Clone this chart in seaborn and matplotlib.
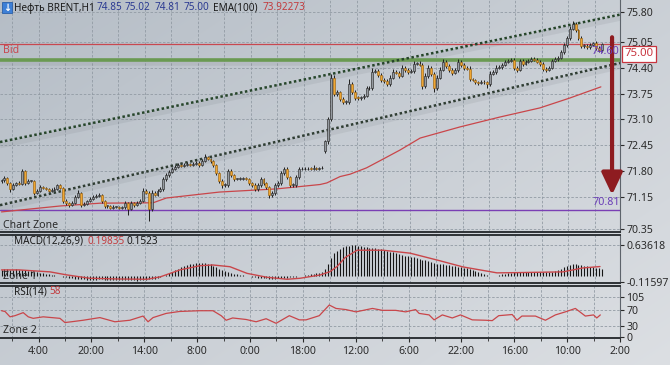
import numpy as np
import matplotlib
matplotlib.use("Agg")
import matplotlib.pyplot as plt
import matplotlib.transforms as mtransforms
from matplotlib.patches import Rectangle
import seaborn as sns

# ---------------- data ----------------
closes = [
    71.57, 71.62, 71.50, 71.35, 71.45, 71.50, 71.48, 71.80, 71.50, 71.55,
    71.55, 71.25, 71.30, 71.40, 71.38, 71.35, 71.30, 71.33, 71.35, 71.45,
    71.38, 71.05, 71.00, 70.95, 71.00, 71.15, 71.25, 70.95, 70.98, 71.05,
    71.10, 71.15, 71.18, 71.20, 71.05, 70.92, 70.92, 70.88, 70.90, 70.90,
    70.88, 70.90, 71.00, 70.85, 71.00, 70.95, 71.00, 71.05, 71.30, 71.25,
    70.85, 71.25, 71.20, 71.30, 71.35, 71.60, 71.70, 71.78, 71.85, 71.90,
    71.95, 71.92, 71.95, 71.98, 71.95, 71.98, 72.00, 71.95, 72.05, 72.15,
    72.10, 72.05, 71.95, 71.75, 71.55, 71.45, 71.45, 71.80, 71.70, 71.60,
    71.60, 71.60, 71.62, 71.60, 71.50, 71.45, 71.35, 71.45, 71.60, 71.50,
    71.40, 71.20, 71.25, 71.45, 71.50, 71.75, 71.85, 71.65, 71.45, 71.45,
    71.65, 71.85, 71.85, 71.85, 71.86, 71.85, 71.88, 71.85, 71.87, 71.88,
    72.55, 73.10, 74.15, 73.75, 73.78, 73.62, 73.55, 73.55, 73.98, 73.80,
    73.65, 73.64, 73.66, 73.70, 73.88, 73.90, 74.30, 74.32, 74.22, 74.10,
    74.08, 74.00, 74.15, 74.30, 74.28, 74.20, 74.40, 74.35, 74.30, 74.32,
    74.50, 74.50, 74.48, 73.95, 74.20, 74.40, 74.25, 73.90, 74.15, 74.35,
    74.55, 74.45, 74.35, 74.28, 74.35, 74.55, 74.48, 74.40, 74.38, 74.12,
    74.10, 74.05, 74.02, 74.05, 74.03, 73.98, 74.25, 74.30, 74.40, 74.42,
    74.48, 74.55, 74.58, 74.60, 74.40, 74.35, 74.58, 74.50, 74.55, 74.58,
    74.62, 74.60, 74.55, 74.50, 74.38, 74.35, 74.40, 74.58, 74.62, 74.65,
    74.80, 74.97, 75.15, 75.38, 75.50, 75.35, 75.15, 74.95, 74.95, 74.92,
    74.98, 75.02, 74.90, 74.85, 75.00,
]
first_open = 71.55
gap_opens = {110: 72.30}

# wick lengths in cents above / below the body
wick_up = [
    4, 5, 3, 3, 4, 3, 4, 6, 3, 4, 3, 3, 4, 5, 3, 3, 3, 4, 5, 3,
    3, 3, 4, 3, 4, 5, 6, 3, 4, 3, 5, 4, 4, 4, 3, 3, 3, 3, 4, 3,
    3, 3, 5, 3, 4, 3, 4, 5, 8, 4, 5, 6, 4, 5, 4, 5, 5, 5, 4, 4,
    4, 3, 4, 4, 3, 4, 4, 4, 5, 7, 4, 3, 3, 3, 3, 4, 4, 6, 4, 3,
    3, 4, 4, 3, 3, 3, 4, 5, 5, 3, 3, 3, 4, 4, 5, 6, 6, 4, 3, 4,
    5, 5, 4, 6, 3, 4, 6, 3, 4, 4, 4, 5, 10, 6, 5, 4, 5, 4, 14, 5,
    4, 4, 4, 5, 6, 5, 10, 4, 4, 4, 4, 5, 6, 6, 4, 4, 6, 4, 4, 4,
    6, 4, 6, 4, 8, 6, 4, 4, 6, 6, 6, 4, 4, 4, 5, 6, 4, 4, 4, 6,
    3, 3, 3, 4, 4, 5, 6, 4, 6, 4, 5, 5, 4, 5, 5, 4, 5, 5, 4, 4,
    5, 4, 4, 4, 4, 4, 5, 5, 4, 4, 6, 6, 6, 8, 8, 5, 4, 4, 4, 4,
    5, 4, 5, 4, 2,
]
wick_dn = [
    4, 4, 5, 7, 4, 3, 4, 4, 4, 3, 3, 6, 4, 4, 3, 4, 4, 4, 3, 4,
    4, 5, 5, 6, 4, 4, 4, 6, 4, 4, 4, 4, 3, 3, 5, 5, 4, 4, 4, 4,
    4, 4, 5, 16, 4, 5, 4, 4, 4, 4, 30, 5, 4, 4, 4, 5, 4, 4, 4, 3,
    3, 3, 3, 3, 3, 3, 3, 4, 3, 3, 3, 4, 4, 6, 6, 8, 5, 5, 4, 4,
    3, 3, 3, 3, 5, 4, 6, 5, 4, 4, 5, 8, 5, 5, 4, 4, 4, 5, 5, 4,
    4, 4, 3, 3, 3, 3, 3, 3, 3, 3, 5, 6, 4, 6, 5, 6, 6, 5, 5, 6,
    5, 5, 4, 4, 4, 5, 5, 4, 5, 6, 6, 5, 5, 4, 4, 5, 4, 5, 5, 4,
    5, 4, 4, 8, 5, 5, 5, 10, 5, 4, 4, 5, 5, 6, 4, 5, 5, 5, 4, 4,
    4, 5, 5, 4, 4, 8, 5, 4, 5, 4, 4, 4, 4, 4, 6, 5, 4, 5, 4, 4,
    4, 4, 4, 5, 6, 5, 4, 4, 4, 4, 4, 4, 4, 4, 4, 6, 6, 6, 5, 5,
    4, 4, 5, 5, 4,
]

ema_idx = [0, 20, 33.5, 51.5, 56, 74, 93.5, 108.2, 110.5, 115, 118.4, 124,
           129.6, 135.4, 142.2, 155.7, 169.3, 182.9, 193.1, 203.6]
ema_val = [70.77, 70.92, 70.99, 71.00, 71.12, 71.27, 71.35, 71.46, 71.50, 71.66,
           71.72, 71.88, 72.10, 72.33, 72.63, 72.91, 73.16, 73.39, 73.64, 73.92]

macd_hist = [
    0.13, 0.14, 0.14, 0.13, 0.13, 0.14, 0.13,
    0.12, 0.12, 0.11, 0.10, 0.09, 0.08, 0.07, 0.06, 0.05, 0.04,
    0.03, 0.02, 0.01, 0.00, -0.01, -0.02,
    -0.03, -0.04, -0.05, -0.05, -0.06, -0.06, -0.07, -0.07, -0.07, -0.07,
    -0.06, -0.06, -0.07, -0.07, -0.08, -0.08, -0.08, -0.08, -0.08, -0.08,
    -0.08, -0.08, -0.08, -0.09, -0.08, -0.08, -0.07, -0.06, -0.06, -0.05, -0.04,
    -0.02, 0.00, 0.03, 0.06, 0.09,
    0.12, 0.15, 0.18, 0.20, 0.22, 0.24, 0.26, 0.27, 0.28, 0.28,
    0.27, 0.26, 0.24, 0.21, 0.18, 0.15, 0.13, 0.11, 0.09, 0.07,
    0.05, 0.04, 0.03, 0.02, 0.01, 0.00, -0.01,
    -0.02, -0.03, -0.03, -0.04, -0.04, -0.05, -0.05, -0.05, -0.04, -0.04,
    -0.03, -0.03, -0.02, -0.02, -0.01, 0.00,
    0.01, 0.02, 0.03, 0.04, 0.05, 0.06, 0.07, 0.08,
    0.15, 0.25, 0.38, 0.47, 0.52, 0.56,
    0.59, 0.61, 0.62, 0.63, 0.63, 0.62,
    0.61, 0.60, 0.59, 0.58, 0.58, 0.57, 0.56, 0.55, 0.54,
    0.52, 0.50, 0.49, 0.47, 0.46, 0.44, 0.42, 0.41, 0.40,
    0.39, 0.38, 0.36, 0.34, 0.33, 0.31, 0.29,
    0.27, 0.26, 0.25, 0.24, 0.23, 0.22, 0.21,
    0.20, 0.19, 0.18, 0.17, 0.16, 0.14, 0.12,
    0.10, 0.08, 0.06, 0.04, 0.02, 0.01,
    0.00, 0.01, 0.02, 0.04, 0.05, 0.06, 0.07,
    0.08, 0.08, 0.09, 0.09, 0.09, 0.09, 0.09, 0.09, 0.09, 0.09, 0.09, 0.08, 0.08, 0.09, 0.10,
    0.12, 0.15, 0.18, 0.21, 0.23, 0.24, 0.24,
    0.23, 0.22, 0.21, 0.20, 0.19, 0.18, 0.17, 0.16, 0.15,
]
sig_idx = [0, 6, 16.5, 22, 30, 40, 49.5, 54, 60.6, 67.4, 71.8, 77.6, 83.4, 90.2,
           97, 101.4, 108.2, 111.6, 114, 116.7, 120.8, 129.6, 138.8, 148, 156.8,
           168.3, 175.1, 190.7, 197.5, 203.3]
sig_val = [0.13, 0.13, 0.09, 0.03, -0.04, -0.055, -0.06, -0.01, 0.13, 0.215, 0.23,
           0.195, 0.06, -0.02, -0.06, -0.04, 0.026, 0.094, 0.20, 0.38, 0.53, 0.53,
           0.47, 0.33, 0.19, 0.07, 0.075, 0.09, 0.17, 0.198]

rsi_idx = [0, 1.2, 2.9, 4.6, 7.4, 9.1, 10.8, 14.2, 19.9, 21.6, 23.8, 27.8, 33.5,
           38.6, 43.7, 48.2, 49.9, 51.6, 56.1, 60.6, 67.4, 72, 74.8, 76.5, 78.7,
           83.3, 86.7, 90.1, 93.5, 98, 101.4, 103.7, 108.2, 111.6, 113.9, 117.3,
           120.7, 126.3, 129.7, 134.2, 137.6, 141, 142.2, 145.6, 147.3, 150.1,
           153.5, 156.3, 160.3, 164.8, 167.1, 169.3, 173.9, 175.5, 177.2, 181.8,
           185.2, 188.6, 192, 195.4, 198.8, 201.6, 202.7, 203.9]
rsi_val = [69, 67, 53, 56, 64, 53, 49, 53, 49, 38, 40, 44, 51, 40, 44, 55, 40, 51,
           62, 67, 69, 69, 56, 44, 50, 46, 40, 48, 36, 56, 45, 45, 56, 84, 75, 72,
           66, 75, 70, 70, 66, 72, 62, 58, 45, 58, 50, 58, 45, 44, 43, 56, 59, 44,
           55, 55, 44, 58, 66, 75, 55, 58, 50, 58]

price_ticks = [75.80, 75.05, 74.40, 73.75, 73.10, 72.45, 71.80, 71.15, 70.35]
macd_ticks = [0.63618, -0.11597]
rsi_ticks = [105, 70, 30, 0]
time_labels = ["4:00", "20:00", "14:00", "8:00", "0:00", "18:00",
               "12:00", "6:00", "22:00", "16:00", "10:00", "2:00"]

bid_level = 75.00
green_level = 74.60
purple_level = 70.81
arrow_top, arrow_bottom = 75.17, 71.20
chan_upper = [72.53, 75.74]
chan_lower = [70.94, 74.52]
title_ohlc = ["74.85", "75.02", "74.81", "75.00"]
ema_last = "73.92273"
macd_title_vals = ["0.19835", "0.1523"]
rsi_last = "58"

n = len(closes)
assert len(wick_up) == n and len(wick_dn) == n and len(macd_hist) == n

# ---------------- derived candle arrays ----------------
opens = [first_open] + closes[:-1]
for k, v in gap_opens.items():
    opens[k] = v
o = np.array(opens); c = np.array(closes)
hi = np.maximum(o, c) + np.array(wick_up) / 100.0
lo = np.minimum(o, c) - np.array(wick_dn) / 100.0
idx = np.arange(n)

# ---------------- style ----------------
sns.set_theme(style="white")
plt.rcParams["font.family"] = ["Noto Sans", "DejaVu Sans"]
FS = 7.2

W, H = 670, 365
fig = plt.figure(figsize=(W / 100, H / 100), dpi=100)

# background gradient
bg = fig.add_axes([0, 0, 1, 1], zorder=-10)
yy, xx = np.mgrid[0:1:H * 1j, 0:1:W * 1j]
t = 0.55 * xx + 0.45 * yy
c0 = np.array(matplotlib.colors.to_rgb("#b5bdc6"))
c1 = np.array(matplotlib.colors.to_rgb("#dcdfe3"))
bg.imshow(c0 + (c1 - c0) * t[..., None], extent=[0, 1, 0, 1], aspect="auto", origin="upper")
bg.axis("off")

def px_axes(top, bottom, right=620):
    return fig.add_axes([0, 1 - bottom / H, right / W, (bottom - top) / H])

ax = px_axes(0, 232)
axm = px_axes(235, 283)
axr = px_axes(286, 338)

XMIN, XMAX = -0.51, 210.1
grid_kw = dict(color="#929ba4", lw=0.6, ls=(0, (3, 2)), zorder=0)
vgrid = np.arange(3.6, XMAX, 9.0)
time_pos = 12.6 + 18.0 * np.arange(len(time_labels))

for a in (ax, axm, axr):
    a.set_facecolor("none")
    a.set_xlim(XMIN, XMAX)
    for x in vgrid:
        a.axvline(x, **grid_kw)
    for s in ("left", "top"):
        a.spines[s].set_visible(False)
    a.spines["right"].set_color("#5d636b")
    a.spines["right"].set_linewidth(0.8)
    a.spines["bottom"].set_color("#2e3236")
    a.spines["bottom"].set_linewidth(1.4)
    a.yaxis.tick_right()
    a.tick_params(axis="y", which="both", right=True, left=False, labelright=True,
                  labelleft=False, direction="out", length=3, width=0.8,
                  colors="#2a2a2a", labelsize=FS + 0.4, pad=1.5)
    a.grid(False)
for a in (axm, axr):
    a.spines["top"].set_visible(True)
    a.spines["top"].set_color("#2e3236")
    a.spines["top"].set_linewidth(1.4)

# ---------------- main panel ----------------
ax.set_ylim(70.264, 76.108)
ax.set_yticks(price_ticks)
ax.set_yticklabels([f"{v:.2f}" for v in price_ticks])
for v in price_ticks:
    ax.axhline(v, **grid_kw)
ax.set_xticks([])

shadow = lambda a, dy: mtransforms.offset_copy(a.transData, fig=fig, x=0, y=dy, units="points")

# horizontal levels
ax.axhline(bid_level, color="#c8474f", lw=0.9, zorder=2)
ax.plot([XMIN, XMAX], [green_level] * 2, color="#6d6f70", lw=4, alpha=0.12,
        transform=shadow(ax, -2.5), zorder=1)
ax.axhline(green_level, color="#6a9a52", lw=2.6, zorder=2)
ax.axhline(purple_level, color="#7a3fb4", lw=1.0, zorder=2)

# channel lines with soft shadow
for vals, col in ((chan_upper, "#26452a"), (chan_lower, "#2f3d33")):
    ax.plot([XMIN, XMAX], vals, color="#5b6168", lw=4, alpha=0.10,
            transform=shadow(ax, -2.5), zorder=1, solid_capstyle="butt")
    ax.plot([XMIN, XMAX], vals, color=col, lw=1.8, ls=(0, (1, 1)), zorder=3)

# EMA
sns.lineplot(x=ema_idx, y=ema_val, ax=ax, color="#c9464a", lw=0.9,
             estimator=None, legend=False, zorder=3)

# candles
bull = c >= o
body_h = np.where(np.abs(c - o) < 0.012, 0.012, c - o)
ax.vlines(idx, lo, hi, color="#1e1e1e", lw=0.7, zorder=4)
ax.bar(idx[bull], body_h[bull], bottom=o[bull], width=0.66, color="#959aa0",
       edgecolor="#2b2b2b", lw=0.45, zorder=5)
ax.bar(idx[~bull], body_h[~bull], bottom=o[~bull], width=0.66, color="#f0a631",
       edgecolor="#9a6414", lw=0.45, zorder=5)

# arrow
arrow_x = 207.4
ax.annotate("", xy=(arrow_x, arrow_bottom), xytext=(arrow_x, arrow_top),
            arrowprops=dict(arrowstyle="-|>,head_width=0.45,head_length=0.95",
                            color="#8e1c20", lw=3, mutation_scale=14,
                            shrinkA=0, shrinkB=0), zorder=6)

# level labels
ax.text(210.0, green_level + 0.07, f"{green_level:.2f}", color="#6b3fb8", fontsize=FS + 0.6,
        ha="right", va="bottom", zorder=7)
ax.text(210.0, purple_level + 0.07, f"{purple_level:.2f}", color="#6b3fb8", fontsize=FS + 0.6,
        ha="right", va="bottom", zorder=7)
ax.text(0.6, bid_level - 0.03, "Bid", color="#c8474f", fontsize=FS + 0.4, ha="left", va="top")
ax.text(0.6, 70.30, "Chart Zone", color="#2a2a2a", fontsize=FS + 0.4, ha="left", va="bottom")
ax.annotate(f"{bid_level:.2f}", xy=(1.0, bid_level), xycoords=("axes fraction", "data"),
            xytext=(3, -3.2), textcoords="offset points", ha="left", va="top",
            color="#c8353f", fontsize=FS + 1.0,
            bbox=dict(boxstyle="square,pad=0.22", fc="white", ec="#c8353f", lw=0.9),
            annotation_clip=False, zorder=8)

# ---------------- MACD panel ----------------
axm.set_ylim(-0.136, 0.839)
axm.set_yticks(macd_ticks)
axm.set_yticklabels([f"{v:.5f}" for v in macd_ticks])
axm.axhline(macd_ticks[0], **grid_kw)
axm.set_xticks([])
axm.vlines(idx, 0, macd_hist, color="#151515", lw=0.8, zorder=3)
sns.lineplot(x=sig_idx, y=sig_val, ax=axm, color="#c9464a", lw=1.0,
             estimator=None, legend=False, zorder=4)
axm.text(0.6, -0.125, "Zone 1", color="#2a2a2a", fontsize=FS + 0.4, ha="left", va="bottom")

# ---------------- RSI panel ----------------
axr.set_ylim(-2.6, 133.9)
axr.set_yticks(rsi_ticks)
axr.set_yticklabels([str(v) for v in rsi_ticks])
for v in rsi_ticks[:3]:
    axr.axhline(v, **grid_kw)
sns.lineplot(x=rsi_idx, y=rsi_val, ax=axr, color="#c9464a", lw=0.9,
             estimator=None, legend=False, zorder=4)
axr.text(0.6, 2, "Zone 2", color="#2a2a2a", fontsize=FS + 0.4, ha="left", va="bottom")
axr.set_xticks(time_pos)
axr.set_xticklabels(time_labels)
axr.set_xticks(vgrid, minor=True)
axr.tick_params(axis="x", which="major", bottom=True, direction="out", length=3,
                width=0.8, colors="#2a2a2a", labelsize=FS + 0.4, pad=3)
axr.tick_params(axis="x", which="minor", bottom=True, direction="out", length=2,
                width=0.6, colors="#2a2a2a")
for a in (ax, axm, axr):
    a.set_xlabel(""); a.set_ylabel("")

# ---------------- header texts (pixel layout) ----------------
def ftext(xpx, ypx, s, color, size=FS):
    fig.text(xpx / W, 1 - ypx / H, s, color=color, fontsize=size, ha="left", va="center")

fig.patches.append(Rectangle((2 / W, 1 - 13 / H), 10 / W, 11 / H, transform=fig.transFigure,
                             fc="#3d7fd6", ec="#2a5fa8", lw=0.6, zorder=20))
fig.text(7 / W, 1 - 7.5 / H, "\u2193", color="white", fontsize=7, ha="center",
         va="center", family="DejaVu Sans", fontweight="bold", zorder=21)
ftext(14, 8, "Нефть BRENT,H1", "#1b1b1b")
for xp, s in zip([97, 125, 155, 184], title_ohlc):
    ftext(xp, 8, s, "#2b3a92")
ftext(213, 8, "EMA(100)", "#1b1b1b")
ftext(263, 8, ema_last, "#c23b3e")

ftext(14, 241, "MACD(12,26,9)", "#1b1b1b")
ftext(87, 241, macd_title_vals[0], "#c23b3e")
ftext(127, 241, macd_title_vals[1], "#1b1b1b")
ftext(14, 292, "RSI(14)", "#1b1b1b")
ftext(49, 292, rsi_last, "#c23b3e")

fig.savefig("out.png", dpi=100)
